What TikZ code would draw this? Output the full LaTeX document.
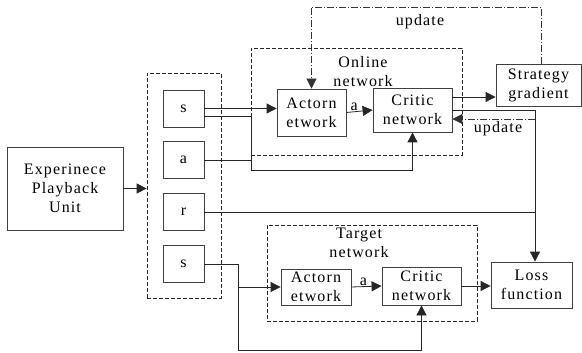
\documentclass[tikz,border=0pt]{standalone}
\usepackage{fontspec}
\setmainfont{Liberation Serif}[LetterSpace=7]
\usetikzlibrary{positioning,arrows.meta}
\tikzset{
  flow/.style={-{Triangle[length=10pt,width=10pt]},line width=0.8pt,draw=black!85},
  wire/.style={line width=0.8pt,draw=black!85},
  updateflow/.style={-{Triangle[length=10pt,width=10pt]},line width=0.7pt,draw=black!80,
    dash pattern=on 7pt off 2pt on 1pt off 2pt},
  box/.style={draw=black!75,line width=0.8pt,fill=white,align=center,inner sep=1pt,
    font=\fontsize{16}{19}\selectfont},
  slot/.style={box,minimum width=41pt,minimum height=37pt},
  groupbox/.style={draw=black!85,line width=0.7pt,dash pattern=on 4pt off 2pt},
  tag/.style={inner sep=1pt,align=center,font=\fontsize{16}{19}\selectfont}
}

\begin{document}
\begin{tikzpicture}[x=1pt,y=-1pt,node distance=14pt]
  \useasboundingbox (0,0) rectangle (582,353);

  % replay buffer and its samples
  \node[box,minimum width=116pt,minimum height=83pt] (exp) at (65,188.5) {Experinece\\Playback\\Unit};
  \node[groupbox,minimum width=74pt,minimum height=225pt] (buf) at (184,185.5) {};
  \node[slot] (s1) at (183.5,108.5) {s};
  \node[slot,below=of s1] (a) {a};
  \node[slot,below=of a] (r) {r};
  \node[slot,below=of r] (s2) {s};

  % online network
  \node[groupbox,minimum width=211pt,minimum height=107pt] (online) at (356.5,101.5) {};
  \node[tag] (onlinelbl) at (363,72) {Online\\network};
  \node[box,minimum width=69pt,minimum height=47pt] (actor1) at (311.5,112.5) {Actorn\\etwork};
  \node[box,minimum width=79pt,minimum height=44pt] (critic1) at (412.5,110) {Critic\\network};
  \node[box,minimum width=85pt,minimum height=42pt] (grad) at (538.5,85) {Strategy\\gradient};

  % target network
  \node[groupbox,minimum width=210pt,minimum height=96pt] (target) at (372,273) {};
  \node[tag] (targetlbl) at (359,243) {Target\\network};
  \node[box,minimum width=70pt,minimum height=36pt] (actor2) at (316,287) {Actorn\\etwork};
  \node[box,minimum width=79pt,minimum height=38pt] (critic2) at (421.5,286) {Critic\\network};
  \node[box,minimum width=81pt,minimum height=46pt] (loss) at (531.5,285) {Loss\\function};

  \coordinate (j1) at (251,170);
  \coordinate (j2) at (535,119);
  \coordinate (j3) at (238,350);
  \coordinate (topline) at (0,7);

  \draw[flow] (exp.east) -- (exp.east -| buf.west);

  % online branch
  \draw[flow] (s1.east) -- (s1.east -| actor1.west);
  \draw[flow] ([yshift=-8pt]s1.east) -| (j1) -| (critic1.south);
  \draw[wire] (a.east) -- (a.east -| j1);
  \draw[flow] (actor1.east) -- node[tag,above,pos=0.3] (alabel1) {a} (critic1.west);
  \draw[flow] ([yshift=13pt]critic1.east) -- ([yshift=13pt]critic1.east -| grad.west);
  \draw[updateflow] ([xshift=3pt]grad.north) |- (topline -| actor1.north) -- (actor1.north);
  \node[tag] (upd1) at (420,22) {update};
  \draw[flow] (critic1.east) -| ([xshift=3.5pt]loss.north);
  \draw[updateflow] (j2) -- (j2 -| critic1.east);
  \node[tag] (upd2) at (498,129) {update};
  \draw[wire] (r.east) -- (r.east -| j2);

  % target branch
  \draw[flow] (s2.east) -| (j3) -| (critic2.south);
  \draw[flow] (j3 |- actor2.west) -- (actor2.west);
  \draw[flow] (actor2.east) -- node[tag,above,pos=0.4] (alabel2) {a} (critic2.west);
  \draw[flow] (critic2.east) -- (critic2.east -| loss.west);
\end{tikzpicture}
\end{document}
